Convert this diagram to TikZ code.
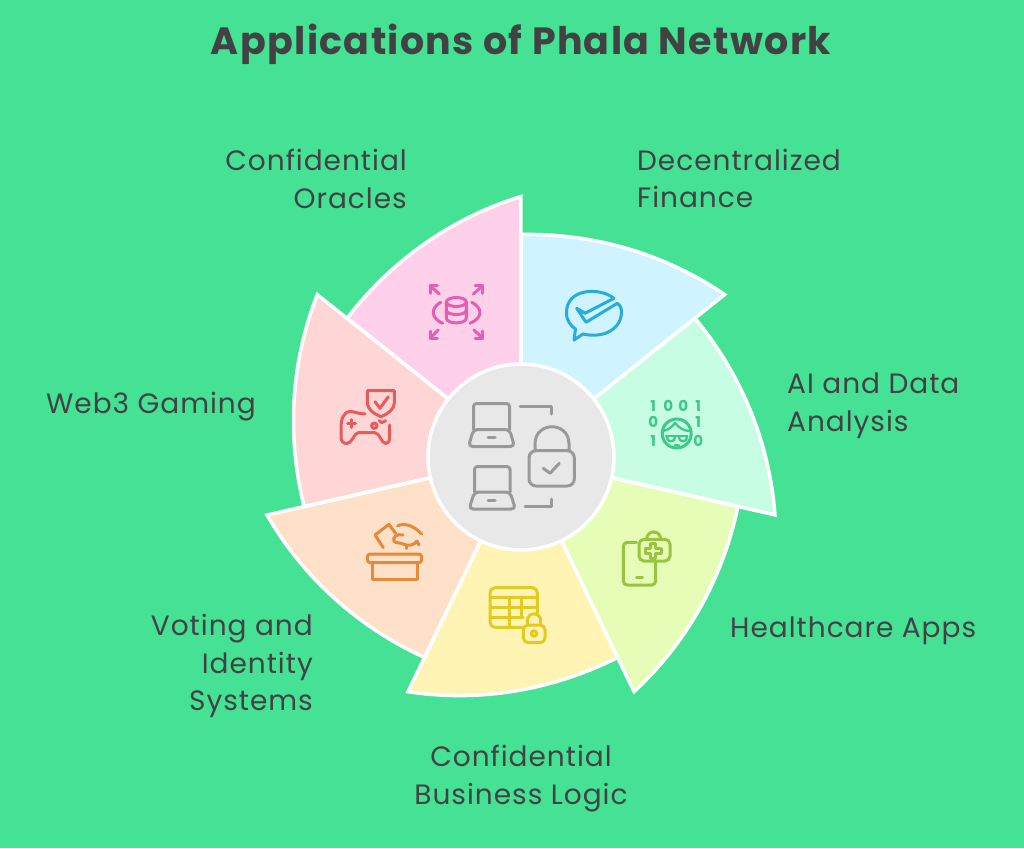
\documentclass[tikz,border=0pt]{standalone}
\usepackage{fontspec}
\setmainfont{Poppins}[LetterSpace=3.5]
\definecolor{bgc}{HTML}{45E296}
\definecolor{ink}{HTML}{424242}
\definecolor{hubgray}{HTML}{999999}
\definecolor{wpink}{HTML}{FFD0EA}
\definecolor{wblue}{HTML}{CFF3FF}
\definecolor{wmint}{HTML}{C7FDE3}
\definecolor{wlime}{HTML}{E6FDB8}
\definecolor{wyel}{HTML}{FFF4B3}
\definecolor{wpeach}{HTML}{FFE0C8}
\definecolor{wrose}{HTML}{FFD6D6}
\definecolor{ipink}{HTML}{E45FB2}
\definecolor{iblue}{HTML}{28ACDB}
\definecolor{imint}{HTML}{3DC98A}
\definecolor{ilime}{HTML}{9AC43F}
\definecolor{iyel}{HTML}{E3CA22}
\definecolor{ipeach}{HTML}{E5893A}
\definecolor{irose}{HTML}{E65C5C}
\tikzset{x=1pt,y=-1pt,
  lab/.style={font=\fontsize{28}{37.5}\selectfont,text=ink,inner sep=0pt},
  ic/.style={line width=3,line cap=round,line join=round},
  wedgeshape/.style={draw=white,line width=3.5,line join=miter}}
\begin{document}
\begin{tikzpicture}
\useasboundingbox (0,0) rectangle (1024,848);
\fill[bgc] (0,0) rectangle (1024,848);
\foreach \s/\c in {141.43/wpink,90/wblue,38.57/wmint,-12.86/wlime,-64.29/wyel,-115.71/wpeach,-167.14/wrose}{
  \draw[wedgeshape,fill=\c] plot[domain=0:1,samples=50,variable=\t]
    ({521+(222.5+38*\t-34*\t*(1-\t))*cos(\s-51.43*\t)},{457-(222.5+38*\t-34*\t*(1-\t))*sin(\s-51.43*\t)}) -- (521,457) -- cycle;
}
\node[circle,draw=white,line width=3.5,fill=black!9,minimum size=186,inner sep=0] (hub) at (521,457) {};
% hub icon
\begin{scope}[ic,hubgray]
\draw[rounded corners=3] (473.5,429.5) -- (473.5,403.5) -- (509.5,403.5) -- (509.5,429.5);
\draw[rounded corners=4] (473.5,429.5) -- (468.5,446.5) -- (514.5,446.5) -- (509.5,429.5) -- cycle;
\draw (488,437.7) -- (495,437.7);
\draw[rounded corners=3] (474.5,492) -- (474.5,466.5) -- (510,466.5) -- (510,492);
\draw[rounded corners=4] (474.5,492) -- (469,509) -- (515.5,509) -- (510,492) -- cycle;
\draw (488,500.7) -- (495,500.7);
\draw (520,406.3) -- (551.7,406.3) -- (551.7,414);
\draw (525,506.3) -- (551.7,506.3) -- (551.7,499);
\draw[rounded corners=7] (529,450.7) rectangle (574.3,486);
\draw (535,450.7) -- (535,444) .. controls (535,421) and (569,421) .. (569,444) -- (569,450.7);
\draw (543.3,468.3) -- (550,473.3) -- (559.3,463.3);
\end{scope}
% database icon
\begin{scope}[ic,ipink]
\draw (456.3,302) ellipse [x radius=10,y radius=4.5];
\draw (446.3,302) -- (446.3,318) .. controls (446.3,324.5) and (466.3,324.5) .. (466.3,318) -- (466.3,302);
\draw (446.3,310) .. controls (446.3,316) and (466.3,316) .. (466.3,310);
\draw (440.7,302.3) .. controls (430.5,308) and (430.5,318) .. (442.7,323.3);
\draw (471.7,302.3) .. controls (483,308) and (483,318) .. (470,323.3);
\draw (439.3,294) -- (430,285.7); \draw (430,293.3) -- (430,285.7) -- (437.3,285.7);
\draw (473.3,294) -- (482.7,285.7); \draw (475,285.7) -- (482.7,285.7) -- (482.7,293.3);
\draw (438.3,330) -- (430,338.3); \draw (430,331) -- (430,338.3) -- (437.3,338.3);
\draw (474,330) -- (482.7,338.3); \draw (482.7,331) -- (482.7,338.3) -- (475,338.3);
\end{scope}
% bubble icon
\begin{scope}[ic,iblue]
\draw (614,298.3) .. controls (600,287) and (566,288) .. (566.5,313) .. controls (566.5,321) and (571,326) .. (575.5,329) -- (574,340) -- (583,334) .. controls (605,339) and (622,328) .. (621.5,311) .. controls (621.5,309) and (621,306) .. (617.3,303.3) -- (586,322.3) -- (576.7,308.3) -- (585,313.3) -- (614,298.3);
\end{scope}
% binary face icon
\begin{scope}[ic,imint]
\foreach \nn/\px/\py/\dd in {da/653.3/406/1,db/668.3/406/0,dc/683.3/406/0,dd/698.3/406/1,de/653.3/421.7/0,df/698.3/421.7/1,dg/653.3/441/1,dh/698.3/441/0}{
  \node[inner sep=0,text=imint,font=\fontsize{15}{15}\bfseries\selectfont] (\nn) at (\px,\py) {\dd};
}
\draw (676.7,433.5) circle [radius=14.5];
\draw[line width=2.3] (663,431) .. controls (668,430) and (672,427) .. (675,423) .. controls (679,428) and (684,431) .. (690,431);
\draw[line width=2.3] (666,436) -- (687,436);
\draw[line width=2.3,rounded corners=1.5] (667,436) -- (668,441) -- (674,441) -- (675,436);
\draw[line width=2.3,rounded corners=1.5] (679,436) -- (680,441) -- (686,441) -- (687,436);
\draw[line width=2.3] (675,445) -- (679,445.5);
\end{scope}
% healthcare icon
\begin{scope}[ic,ilime]
\draw[rounded corners=4] (636.5,542.3) -- (623.3,542.3) -- (623.3,585) -- (655.7,585) -- (655.7,561);
\draw[rounded corners=5] (639,539.3) rectangle (670,561);
\draw (646.7,539.3) .. controls (646.7,529.5) and (660.7,529.5) .. (660.7,539.3);
\draw (650.8,543) -- (655.8,543) -- (655.8,548.2) -- (661,548.2) -- (661,553.2) -- (655.8,553.2) -- (655.8,558.4) -- (650.8,558.4) -- (650.8,553.2) -- (645.6,553.2) -- (645.6,548.2) -- (650.8,548.2) -- cycle;
\draw (636.7,577.7) -- (642.7,577.7);
\end{scope}
% table lock icon
\begin{scope}[ic,iyel]
\draw[rounded corners=5] (522,627.3) -- (490,627.3) -- (490,587.7) -- (537.3,587.7) -- (537.3,613);
\draw (490,597.7) -- (537.3,597.7);
\draw (490,607.7) -- (537.3,607.7);
\draw (490,617.7) -- (523,617.7);
\draw (509.3,597.7) -- (509.3,627.3);
\draw (521.7,597.7) -- (521.7,617);
\draw[rounded corners=5] (523.3,625) rectangle (545,642.7);
\draw (527.3,625) -- (527.3,621) .. controls (527.3,611.5) and (540.7,611.5) .. (540.7,621) -- (540.7,625);
\draw (534,633.5) circle [radius=2.7];
\end{scope}
% ballot icon
\begin{scope}[ic,ipeach]
\draw[rounded corners=3] (367.3,554) rectangle (421.7,562.7);
\draw (372.3,562.7) -- (372.3,579.3) -- (417.7,579.3) -- (417.7,562.7);
\draw (383.3,547.7) -- (375,535) -- (389,524.3) -- (396,534);
\draw (397.5,526) .. controls (404,522.5) and (413,525) .. (421.7,534);
\draw (403,535) .. controls (397,533) and (392,538) .. (394,541) .. controls (396,544) and (400,542) .. (403,544) .. controls (407,546) and (414,546) .. (417,541) -- (419,545);
\draw (406,546) -- (406,548.5);
\end{scope}
% controller icon
\begin{scope}[ic,irose]
\draw (367.3,390.7) -- (394.3,390.7) -- (394.3,403) .. controls (394.3,409) and (388,414) .. (381,416.7) .. controls (374,414) and (367.3,409) .. (367.3,403) -- cycle;
\draw (375,401.7) -- (380,408.3) -- (388.3,396.7);
\draw (365,414) .. controls (358,414) and (355,411.5) .. (350,411.5) .. controls (343,412) and (341,420) .. (341,428) -- (341,437) .. controls (341,441) and (343,443.5) .. (347,443.5) .. controls (352,443.5) and (354,433) .. (358.3,432.7) -- (375,432.7) .. controls (380,433) and (381,443.5) .. (386,443.5) .. controls (389,443.5) and (389.5,441) .. (389.5,437) -- (389.5,425);
\draw (351.7,419.5) -- (351.7,427.5);
\draw (347.7,423.5) -- (355.7,423.5);
\draw (374.3,425.7) circle [radius=2.7];
\draw (379.3,420.7) -- (381.7,422.7) -- (385.7,420.7);
\end{scope}
% labels
\node[lab,font=\fontsize{38}{40}\bfseries\selectfont] (title) at (521,44) {Applications of Phala Network};
\node[lab,align=right,anchor=east] (oracles) at (407,178.7) {Confidential\\Oracles};
\node[lab,align=left,anchor=west] (defi) at (637,178.7) {Decentralized\\Finance};
\node[lab,align=left,anchor=west] (ai) at (787,405.5) {AI and Data\\Analysis};
\node[lab,anchor=west] (health) at (730,631) {Healthcare Apps};
\node[lab,align=center] (biz) at (521,778.5) {Confidential\\Business Logic};
\node[lab,align=right,anchor=east] (voting) at (313,666) {Voting and\\Identity\\Systems};
\node[lab,anchor=east] (gaming) at (256,407) {Web3 Gaming};
\end{tikzpicture}
\end{document}
